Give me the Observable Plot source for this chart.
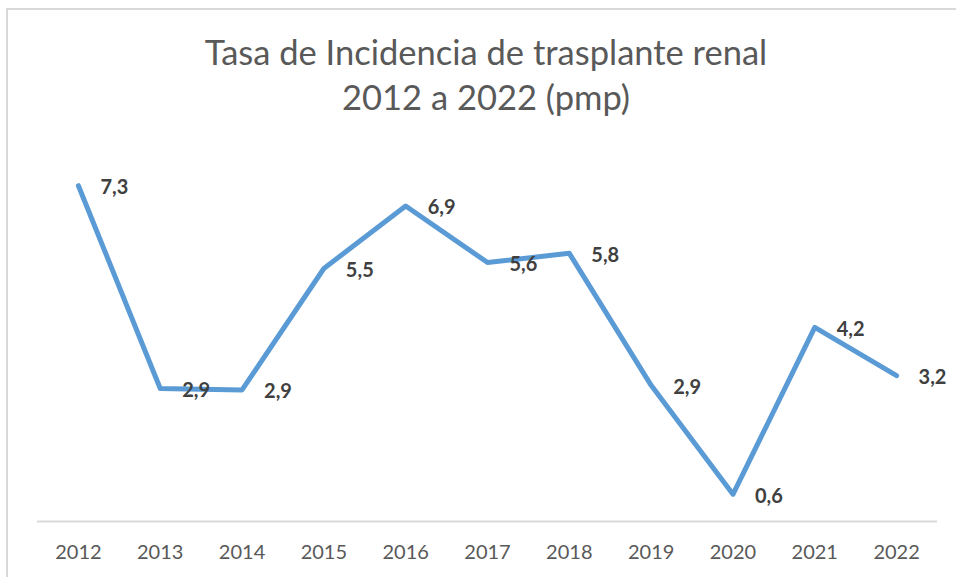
<!DOCTYPE html>
<html>
<head>
<meta charset="utf-8">
<script src="https://cdn.jsdelivr.net/npm/d3@7"></script>
<script src="https://cdn.jsdelivr.net/npm/@observablehq/plot@0.6"></script>
<style>
  html, body { margin: 0; padding: 0; background: #fff; overflow: hidden; }
  #wrap { position: relative; width: 956px; height: 577px; overflow: hidden; font-family: Lato, "Open Sans", sans-serif; }
  #frame { position: absolute; left: 6px; top: 8px; width: 1100px; height: 800px; border: 2px solid #d9d9d9; box-sizing: border-box; }
  #title { position: absolute; left: 0; top: 0; width: 972px; height: 130px; text-align: center; color: #595959;
           font-weight: 400; font-size: 34.5px; line-height: 45px; padding-top: 29px; box-sizing: border-box; }
  #plot { position: absolute; left: 0; top: 130px; }
</style>
</head>
<body>
<div id="wrap">
  <div id="frame"></div>
  <div id="title">Tasa de Incidencia de trasplante renal<br>2012 a 2022 (pmp)</div>
  <div id="plot"></div>
</div>
<script>
const years = ["2012","2013","2014","2015","2016","2017","2018","2019","2020","2021","2022"];
const values = [7.30, 2.89, 2.86, 5.50, 6.86, 5.63, 5.83, 2.96, 0.59, 4.22, 3.17];
const labels = ["7,3","2,9","2,9","5,5","6,9","5,6","5,8","2,9","0,6","4,2","3,2"];

const data = years.map((y, i) => ({year: y, value: values[i], label: labels[i]}));

const chart = Plot.plot({
  width: 956,
  height: 447,
  marginLeft: 37,
  marginRight: 19,
  marginTop: 23,
  marginBottom: 56,
  style: {fontFamily: "Lato, 'Open Sans', sans-serif", background: "transparent"},
  x: {type: "point", domain: years, padding: 0.5, round: false, label: null},
  y: {domain: [0, 8], axis: null},
  marks: [
    Plot.ruleY([0], {stroke: "#d9d9d9", strokeWidth: 2}),
    Plot.axisX({tickSize: 0, tickPadding: 23, fontSize: 20, fill: "#595959", label: null}),
    Plot.line(data, {x: "year", y: "value", stroke: "#5B9BD5", strokeWidth: 5, strokeLinecap: "round", strokeLinejoin: "round"}),
    Plot.text(data, {x: "year", y: "value", text: "label", dx: 22, dy: 2, textAnchor: "start", fontSize: 20, fontWeight: "bold", fill: "#404040"})
  ]
});
document.getElementById("plot").appendChild(chart);
</script>
</body>
</html>
